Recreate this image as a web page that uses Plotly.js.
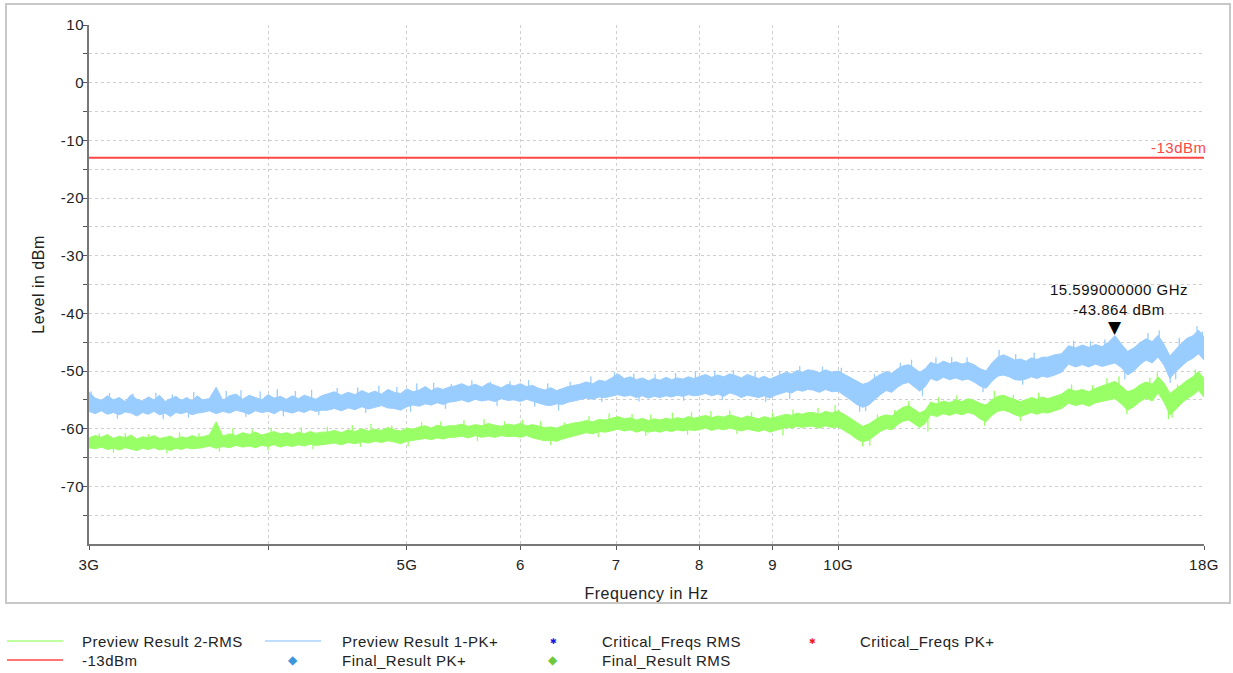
<!DOCTYPE html>
<html>
<head>
<meta charset="utf-8">
<script src="https://cdn.plot.ly/plotly-3.0.1.min.js"></script>
<style>
html,body{margin:0;padding:0;background:#fff;}
#chart{width:1233px;height:673px;}
svg text{letter-spacing:0.5px;}
</style>
</head>
<body>
<div id="chart"></div>
<script>
// Sweep frequencies in GHz
const freqGHz = [
3.00,3.03,3.06,3.09,3.12,3.15,3.18,3.21,3.24,3.27,3.30,3.33,3.36,3.39,3.42,3.45,3.48,3.51,3.54,3.57,
3.60,3.64,3.68,3.72,3.76,3.80,3.84,3.88,3.92,3.96,4.00,4.04,4.08,4.12,4.16,4.20,4.24,4.28,4.32,4.36,
4.40,4.45,4.50,4.55,4.60,4.65,4.70,4.75,4.80,4.85,4.90,4.95,5.00,5.05,5.10,5.15,5.20,5.25,5.30,5.35,
5.40,5.46,5.52,5.58,5.64,5.70,5.76,5.82,5.88,5.94,6.00,6.06,6.12,6.18,6.24,6.30,6.36,6.42,6.48,6.54,
6.60,6.67,6.74,6.81,6.88,6.95,7.02,7.09,7.16,7.23,7.30,7.37,7.44,7.51,7.58,7.65,7.72,7.79,7.86,7.93,
8.00,8.08,8.16,8.24,8.32,8.40,8.48,8.56,8.64,8.72,8.80,8.88,8.96,9.04,9.12,9.20,9.28,9.36,9.44,9.52,
9.60,9.70,9.80,9.90,10.00,10.10,10.20,10.30,10.40,10.50,10.60,10.70,10.80,10.90,11.00,11.10,11.20,11.30,11.40,11.50,
11.60,11.72,11.84,11.96,12.08,12.20,12.32,12.44,12.56,12.68,12.80,12.92,13.04,13.16,13.28,13.40,13.52,13.64,13.76,13.88,
14.00,14.16,14.32,14.48,14.64,14.80,14.96,15.12,15.28,15.44,15.60,15.76,15.92,16.08,16.24,16.40,16.56,16.72,16.88,17.04,17.20,17.36,17.52,17.68,17.84,18.00
];

// Preview Result 1-PK+ : upper / lower edge of the noise band (dBm)
const pkUpper = [
-53.7,-54.7,-55.1,-54.3,-55.0,-54.6,-55.3,-54.1,-54.9,-55.2,-54.5,-55.0,-54.2,-55.3,-54.8,-54.4,-55.1,-54.6,-55.2,-54.3,
-55.0,-54.8,-52.8,-55.1,-54.3,-54.0,-54.9,-54.2,-54.6,-55.0,-54.1,-54.7,-54.4,-54.9,-54.3,-54.8,-54.2,-54.6,-54.9,-54.3,
-54.0,-53.6,-54.2,-53.7,-54.1,-53.4,-53.9,-53.5,-54.0,-53.2,-53.7,-53.9,-53.1,-53.6,-53.3,-52.7,-53.4,-52.9,-53.2,-52.8,
-52.6,-52.2,-52.7,-52.3,-52.8,-52.1,-52.5,-52.9,-52.3,-52.6,-52.2,-52.7,-52.5,-53.0,-53.3,-52.9,-53.4,-53.0,-52.7,-52.5,
-52.3,-51.9,-52.2,-51.6,-51.8,-51.2,-50.5,-51.3,-51.0,-51.5,-51.2,-51.7,-51.3,-51.6,-51.1,-51.5,-51.2,-51.4,-51.0,-51.3,
-51.0,-50.6,-51.1,-50.7,-51.0,-50.5,-50.8,-51.2,-50.6,-51.0,-51.3,-50.9,-51.4,-51.0,-50.6,-50.2,-50.5,-49.9,-50.2,-49.8,
-49.9,-50.3,-49.8,-50.2,-50.0,-50.6,-51.2,-51.8,-52.3,-52.0,-51.2,-50.6,-50.1,-50.4,-49.6,-49.1,-48.9,-49.5,-50.2,-49.6,
-48.5,-48.9,-48.3,-48.7,-48.4,-48.8,-48.5,-48.9,-49.6,-50.0,-48.6,-47.6,-47.2,-47.6,-48.1,-47.9,-48.3,-47.7,-48.0,-47.6,
-47.6,-47.2,-47.0,-45.6,-46.0,-45.5,-45.9,-45.4,-45.8,-45.0,-43.86,-45.3,-46.6,-46.0,-45.1,-44.4,-44.9,-43.8,-45.4,-47.4,-46.2,-45.2,-44.3,-43.9,-42.9,-44.1
];
const pkLower = [
-57.0,-57.4,-56.9,-57.5,-57.2,-57.6,-57.1,-57.3,-57.8,-57.2,-57.5,-57.0,-57.6,-57.3,-57.9,-57.2,-57.4,-57.1,-57.6,-57.3,
-57.2,-56.9,-57.4,-57.0,-57.3,-56.8,-57.1,-57.5,-56.9,-57.2,-57.0,-57.4,-56.8,-57.1,-57.3,-56.9,-57.2,-56.7,-57.0,-56.8,
-56.8,-56.5,-56.9,-56.4,-56.7,-56.2,-56.6,-56.3,-56.0,-56.4,-56.5,-56.8,-56.2,-55.9,-56.1,-55.7,-55.9,-55.5,-55.8,-55.4,
-55.3,-55.0,-55.4,-54.9,-55.2,-55.0,-55.3,-54.8,-55.1,-55.0,-55.3,-54.9,-55.2,-55.6,-55.9,-56.0,-55.7,-55.8,-55.4,-55.2,
-55.0,-54.7,-54.9,-54.5,-54.6,-54.3,-54.1,-54.4,-54.2,-54.6,-54.3,-54.7,-54.4,-54.6,-54.3,-54.5,-54.2,-54.4,-54.1,-54.3,
-54.2,-53.9,-54.3,-54.0,-54.4,-53.8,-54.1,-54.6,-54.2,-54.4,-54.6,-54.3,-54.7,-54.2,-53.9,-53.6,-53.8,-53.3,-53.5,-53.2,
-53.3,-53.7,-53.2,-53.6,-53.5,-54.2,-55.0,-55.8,-56.3,-55.9,-55.0,-54.1,-53.4,-53.7,-52.8,-52.2,-52.0,-52.8,-53.5,-52.7,
-51.3,-51.7,-51.1,-51.5,-51.2,-51.6,-51.4,-51.9,-52.6,-53.0,-51.8,-50.9,-50.7,-51.0,-51.5,-51.6,-51.4,-51.0,-51.3,-50.9,
-51.1,-50.7,-50.2,-48.8,-49.3,-48.9,-49.3,-48.8,-49.2,-48.9,-48.6,-49.4,-50.7,-50.0,-48.9,-48.1,-48.6,-47.6,-49.0,-51.3,-50.1,-49.2,-48.3,-47.8,-47.0,-48.1
];

// Preview Result 2-RMS : upper / lower edge of the noise band (dBm)
const rmsUpper = [
-61.6,-61.2,-61.5,-61.0,-61.7,-61.3,-61.6,-61.1,-61.8,-61.4,-61.6,-61.2,-61.7,-61.5,-61.3,-61.8,-61.4,-61.6,-61.2,-61.5,
-61.4,-61.1,-58.8,-61.3,-60.9,-61.2,-60.7,-61.0,-60.6,-61.1,-60.8,-60.5,-60.9,-60.7,-61.0,-60.6,-60.9,-60.5,-60.8,-60.6,
-60.6,-60.3,-60.7,-60.2,-60.5,-60.0,-60.4,-60.1,-60.3,-59.8,-60.2,-60.4,-59.9,-60.1,-59.7,-59.5,-59.9,-59.4,-59.7,-59.5,
-59.5,-59.2,-59.6,-59.3,-59.5,-59.1,-59.4,-59.6,-59.2,-59.4,-59.1,-59.5,-59.3,-59.6,-59.8,-59.7,-59.9,-59.5,-59.2,-59.0,
-58.9,-58.6,-58.8,-58.4,-58.5,-58.2,-57.9,-58.3,-58.1,-58.5,-58.2,-58.6,-58.3,-58.5,-58.2,-58.4,-58.1,-58.3,-57.9,-58.2,
-58.0,-57.7,-58.1,-57.8,-58.0,-57.6,-57.9,-58.2,-57.8,-58.0,-58.3,-57.9,-58.2,-58.0,-57.7,-57.5,-57.7,-57.3,-57.5,-57.2,
-57.2,-57.5,-57.0,-57.3,-56.9,-57.5,-58.2,-58.9,-59.6,-59.2,-58.5,-57.9,-57.6,-57.8,-56.9,-56.3,-56.0,-56.7,-57.3,-56.8,
-55.4,-55.7,-55.2,-55.5,-55.0,-55.3,-54.8,-55.1,-55.6,-55.9,-55.0,-54.4,-54.2,-54.6,-55.0,-55.3,-55.0,-54.6,-54.9,-54.5,
-54.8,-54.4,-54.0,-53.1,-53.5,-53.2,-53.6,-53.0,-52.6,-52.1,-51.8,-52.6,-53.6,-53.2,-52.4,-51.9,-52.3,-51.0,-52.1,-53.9,-53.2,-52.4,-51.6,-51.0,-50.1,-51.3
];
const rmsLower = [
-63.3,-63.5,-63.2,-63.6,-63.4,-63.7,-63.3,-63.5,-63.8,-63.4,-63.6,-63.3,-63.7,-63.5,-63.8,-63.4,-63.6,-63.3,-63.5,-63.4,
-63.3,-63.0,-63.4,-63.1,-63.3,-62.9,-63.2,-63.0,-63.3,-62.9,-63.1,-62.8,-63.2,-62.9,-63.1,-62.8,-63.0,-62.7,-62.9,-62.8,
-62.7,-62.5,-62.8,-62.4,-62.6,-62.3,-62.5,-62.2,-62.4,-62.1,-62.3,-62.6,-62.2,-62.0,-61.9,-61.7,-61.9,-61.6,-61.8,-61.5,
-61.5,-61.3,-61.6,-61.2,-61.5,-61.3,-61.5,-61.2,-61.4,-61.3,-61.5,-61.2,-61.6,-61.8,-62.1,-62.0,-62.2,-61.8,-61.5,-61.2,
-61.0,-60.7,-60.9,-60.5,-60.6,-60.3,-60.1,-60.4,-60.2,-60.6,-60.3,-60.6,-60.4,-60.6,-60.3,-60.5,-60.2,-60.4,-60.2,-60.3,
-60.2,-59.9,-60.3,-60.0,-60.2,-59.9,-60.1,-60.4,-60.1,-60.3,-60.5,-60.2,-60.6,-60.3,-60.0,-59.8,-59.9,-59.6,-59.8,-59.6,
-59.6,-59.9,-59.5,-59.8,-59.7,-60.3,-61.0,-61.8,-62.3,-62.0,-61.2,-60.5,-60.0,-60.2,-59.3,-58.7,-58.5,-59.2,-59.8,-59.1,
-57.6,-57.9,-57.4,-57.7,-57.3,-57.6,-57.2,-57.5,-58.3,-58.8,-57.7,-57.0,-56.8,-57.1,-57.6,-57.9,-57.6,-57.2,-57.5,-57.2,
-57.3,-56.9,-56.5,-55.6,-56.0,-55.7,-56.1,-55.5,-55.3,-55.0,-54.8,-55.7,-56.8,-56.2,-55.3,-54.7,-55.2,-53.8,-55.4,-57.6,-56.7,-55.6,-54.8,-54.2,-53.4,-54.5
];

// Isolated noise spikes above / below the bands (GHz, dBm)
const pkSpikeUpFreq = [3.01,3.10,3.22,3.34,3.43,3.55,3.74,3.83,3.95,4.06,4.18,4.29,4.47,4.62,4.78,4.92,5.08,5.22,5.37,5.55,5.72,5.90,6.08,6.27,6.50,6.72,6.98,7.20,7.45,7.70,7.95,8.20,8.45,8.75,9.10,9.40,9.75,10.05,10.60,11.05,11.25,11.70,12.00,12.30,12.95,13.30,13.70,14.60,15.00,15.35,16.45,16.75,17.30,17.80,17.95];
const pkSpikeUpTop  = [-53.6,-53.9,-54.0,-53.8,-54.1,-53.7,-53.5,-53.4,-53.6,-53.2,-53.5,-53.3,-53.0,-52.9,-52.6,-52.8,-52.2,-52.1,-52.3,-51.7,-51.9,-51.8,-51.6,-52.2,-51.9,-51.0,-50.2,-50.5,-50.6,-50.4,-50.1,-50.0,-49.9,-50.2,-50.0,-49.2,-49.3,-49.5,-50.6,-48.6,-48.1,-47.7,-47.6,-47.7,-46.4,-47.1,-46.9,-44.8,-44.9,-44.6,-43.5,-43.0,-44.3,-42.3,-43.2];
const pkSpikeDownFreq = [3.14,3.38,3.52,3.86,4.10,4.34,4.68,5.03,5.32,5.78,6.14,6.38,6.84,7.26,7.80,8.30,8.90,9.25,10.35,10.45,11.45,12.62,13.45,15.85,17.05,17.20];
const pkSpikeDownBottom = [-58.2,-58.3,-58.0,-57.9,-57.8,-57.6,-57.2,-57.0,-56.5,-56.0,-56.1,-56.8,-55.3,-55.2,-55.1,-55.0,-55.3,-54.8,-57.0,-56.9,-54.3,-53.6,-52.3,-51.4,-52.0,-51.4];
const rmsSpikeUpFreq = [3.05,3.18,3.30,3.47,3.58,3.78,3.90,4.02,4.22,4.40,4.58,4.72,4.88,5.12,5.28,5.48,5.66,5.85,6.02,6.20,6.44,6.70,6.92,7.18,7.40,7.66,7.90,8.15,8.40,8.70,9.00,9.30,9.68,9.95,10.65,10.95,11.20,11.75,12.10,12.85,13.25,13.80,14.55,15.05,15.40,15.70,16.50,16.70,17.25,17.75];
const rmsSpikeUpTop  = [-60.9,-60.8,-61.0,-60.7,-60.9,-60.0,-60.2,-59.9,-59.8,-59.7,-59.4,-59.2,-59.5,-58.9,-58.8,-58.6,-58.4,-58.8,-58.5,-58.7,-59.0,-57.9,-57.4,-57.5,-57.6,-57.3,-57.2,-57.0,-56.9,-57.2,-57.3,-56.7,-56.4,-56.0,-57.6,-56.8,-55.3,-54.6,-54.3,-53.5,-54.2,-53.8,-52.4,-52.5,-51.3,-51.0,-51.2,-50.3,-52.4,-49.8];
const rmsSpikeDownFreq = [3.12,3.40,3.70,4.00,4.30,4.64,5.01,5.60,6.30,6.80,7.34,7.85,8.50,9.15,10.40,10.52,11.55,12.65,13.40,15.90,17.00,17.10];
const rmsSpikeDownBottom = [-64.1,-64.2,-63.9,-63.7,-63.5,-63.1,-63.0,-62.1,-62.8,-61.4,-61.2,-61.0,-60.9,-61.1,-63.0,-62.9,-60.4,-59.4,-58.6,-57.4,-58.3,-58.0];

// Limit line and marker
const limitLevel = -13;
const limitLabel = "-13dBm";
const markerFreqGHz = 15.599;
const markerLevel = -43.864;
const markerText = ["15.599000000 GHz", "-43.864 dBm"];

// Axis ticks
const xTickVals = [3, 4, 5, 6, 7, 8, 9, 10, 18];
const xTickText = ["3G", "", "5G", "6", "7", "8", "9", "10G", "18G"];
const yTickVals = [10, 0, -10, -20, -30, -40, -50, -60, -70];
const yTickText = ["10", "0", "-10", "-20", "-30", "-40", "-50", "-60", "-70"];
const yMinorVals = [5, -5, -15, -25, -35, -45, -55, -65, -75];

// Legend entries
const legendItems = [
  {name: "Preview Result 2-RMS", kind: "line", color: "rgb(170,255,130)", col: 0, row: 0},
  {name: "Preview Result 1-PK+", kind: "line", color: "rgb(170,210,255)", col: 1, row: 0},
  {name: "Critical_Freqs RMS", kind: "star", color: "rgb(20,20,230)", col: 2, row: 0},
  {name: "Critical_Freqs PK+", kind: "star", color: "rgb(240,30,30)", col: 3, row: 0},
  {name: "-13dBm", kind: "line", color: "rgb(255,70,70)", col: 0, row: 1},
  {name: "Final_Result PK+", kind: "diamond", color: "rgb(60,150,220)", col: 1, row: 1},
  {name: "Final_Result RMS", kind: "diamond", color: "rgb(110,200,60)", col: 2, row: 1}
];

// ---- layout helpers (pixel geometry of the page) ----
const W = 1233, H = 673;
const PL = 89, PR = 1204, PT = 25, PB = 544;
const px2x = p => (p - PL) / (PR - PL);
const py2y = p => (PB - p) / (PB - PT);

const BLUE = "rgb(153,204,255)";
const GREEN = "rgb(153,255,102)";
const FONT = "Liberation Sans, Arial, sans-serif";
const FS = 15;
const FT = 16;

const freqLast = freqGHz[freqGHz.length - 1];

function spikeTrace(xs, ys, color, up) {
  return {
    x: xs, y: ys, mode: "markers", marker: {size: 1, color: color}, hoverinfo: "skip", showlegend: false,
    error_y: up
      ? {type: "constant", symmetric: false, value: 0, valueminus: 2.2, width: 0, thickness: 1.3, color: color}
      : {type: "constant", symmetric: false, value: 2.2, valueminus: 0, width: 0, thickness: 1.3, color: color}
  };
}

const traces = [
  {x: freqGHz, y: rmsUpper, mode: "lines", line: {color: GREEN, width: 1}, hoverinfo: "skip", showlegend: false},
  {x: freqGHz, y: rmsLower, mode: "lines", line: {color: GREEN, width: 1}, fill: "tonexty", fillcolor: GREEN, hoverinfo: "skip", showlegend: false},
  spikeTrace(rmsSpikeUpFreq, rmsSpikeUpTop, GREEN, true),
  spikeTrace(rmsSpikeDownFreq, rmsSpikeDownBottom, GREEN, false),
  {x: freqGHz, y: pkUpper, mode: "lines", line: {color: BLUE, width: 1}, hoverinfo: "skip", showlegend: false},
  {x: freqGHz, y: pkLower, mode: "lines", line: {color: BLUE, width: 1}, fill: "tonexty", fillcolor: BLUE, hoverinfo: "skip", showlegend: false},
  spikeTrace(pkSpikeUpFreq, pkSpikeUpTop, BLUE, true),
  spikeTrace(pkSpikeDownFreq, pkSpikeDownBottom, BLUE, false),
  {x: [freqGHz[0], freqLast], y: [limitLevel, limitLevel], mode: "lines", line: {color: "rgb(255,70,70)", width: 2}, hoverinfo: "skip", showlegend: false}
];

const shapes = [
  {type: "rect", xref: "paper", yref: "paper", x0: px2x(6), x1: px2x(1230), y0: py2y(4), y1: py2y(603),
   line: {color: "rgb(200,200,200)", width: 2}, layer: "below"}
];

const annotations = [
  {xref: "paper", yref: "y", x: px2x(1209), y: limitLevel, xanchor: "right", yanchor: "bottom", yshift: 0,
   text: limitLabel, showarrow: false, font: {family: FONT, size: FS, color: "rgb(255,70,70)"}},
  {x: Math.log10(markerFreqGHz), y: markerLevel, xanchor: "center", yanchor: "bottom", yshift: -3,
   text: "▼", showarrow: false, font: {family: "DejaVu Sans", size: 17, color: "#000"}},
  {x: Math.log10(markerFreqGHz), y: markerLevel, xanchor: "center", yanchor: "bottom", yshift: 16, xshift: 4,
   text: markerText.join("<br>"), showarrow: false, font: {family: FONT, size: FS, color: "#111"}}
];

// custom legend
const colText = [80, 340, 600, 858];
const colSym = [35, 293, 553, 812];
const rowY = [641, 660];
legendItems.forEach(it => {
  const cx = colSym[it.col], cy = rowY[it.row];
  if (it.kind === "line") {
    shapes.push({type: "line", xref: "paper", yref: "paper", x0: px2x(cx - 28), x1: px2x(cx + 28),
      y0: py2y(cy), y1: py2y(cy), line: {color: it.color, width: 1.5}});
  } else {
    annotations.push({xref: "paper", yref: "paper", x: px2x(cx), y: py2y(cy), xanchor: "center", yanchor: "middle",
      text: it.kind === "star" ? "✱" : "◆", showarrow: false,
      font: {family: "DejaVu Sans", size: it.kind === "star" ? 8 : 12, color: it.color}});
  }
  annotations.push({xref: "paper", yref: "paper", x: px2x(colText[it.col]), y: py2y(cy), xanchor: "left", yanchor: "middle",
    text: it.name, showarrow: false, font: {family: FONT, size: FS, color: "#222"}});
});

const layout = {
  width: W, height: H,
  margin: {l: PL, r: W - PR, t: PT, b: H - PB, pad: 0},
  paper_bgcolor: "#fff", plot_bgcolor: "#fff",
  font: {family: FONT, size: FS, color: "#222"},
  showlegend: false,
  xaxis: {
    type: "log", range: [Math.log10(3), Math.log10(18)],
    tickmode: "array", tickvals: xTickVals, ticktext: xTickText,
    ticks: "outside", ticklen: 4, tickcolor: "#555", tickwidth: 1,
    ticklabelstandoff: 2,
    showline: true, linecolor: "#777", linewidth: 2,
    showgrid: true, gridcolor: "#cfcfcf", griddash: "dot", gridwidth: 1,
    zeroline: false,
    title: {text: "Frequency in Hz", font: {family: FONT, size: FT, color: "#222"}, standoff: 16},
    tickfont: {family: FONT, size: FS, color: "#222"}
  },
  yaxis: {
    range: [-80, 10],
    tickmode: "array", tickvals: yTickVals, ticktext: yTickText,
    ticks: "outside", ticklen: 4, tickcolor: "#555", tickwidth: 1,
    ticklabelstandoff: -4,
    minor: {tickvals: yMinorVals, ticks: "outside", ticklen: 4, tickcolor: "#555",
            showgrid: true, gridcolor: "#cfcfcf", griddash: "dot", gridwidth: 1},
    showline: true, linecolor: "#777", linewidth: 2,
    showgrid: true, gridcolor: "#cfcfcf", griddash: "dot", gridwidth: 1,
    zeroline: false,
    title: {text: "Level in dBm", font: {family: FONT, size: FT, color: "#222"}, standoff: 12},
    tickfont: {family: FONT, size: FS, color: "#222"}
  },
  shapes: shapes,
  annotations: annotations
};

Plotly.newPlot("chart", traces, layout, {displayModeBar: false, staticPlot: true});
</script>
</body>
</html>
